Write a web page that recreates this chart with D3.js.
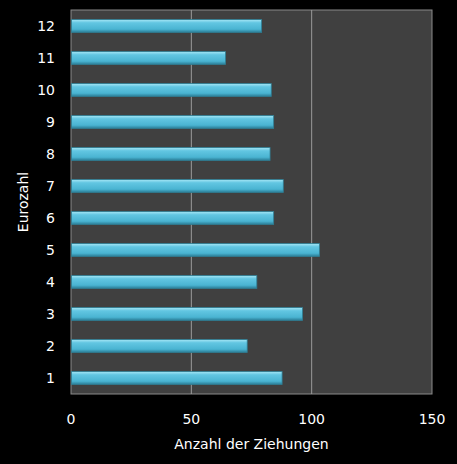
<!DOCTYPE html>
<html><head><meta charset="utf-8">
<script src="https://cdn.jsdelivr.net/npm/d3@7"></script>
<style>body{margin:0;background:#000}</style>
</head><body>
<script>
var categories = ["1","2","3","4","5","6","7","8","9","10","11","12"];
var values = [87.5, 73, 96, 77, 103, 84, 88, 82.5, 84, 83, 64, 79];
var xTicks = [0, 50, 100, 150];

var W = 457, H = 464;
var margin = { left: 71, top: 10, right: 25, bottom: 70 };
var svg = d3.select("body").append("svg").attr("width", W).attr("height", H);

var defs = svg.append("defs");
var grad = defs.append("linearGradient").attr("id", "bar").attr("x1", 0).attr("y1", 0).attr("x2", 0).attr("y2", 1);
grad.append("stop").attr("offset", "0").attr("stop-color", "#a6e6f5");
grad.append("stop").attr("offset", "0.25").attr("stop-color", "#62c6e2");
grad.append("stop").attr("offset", "0.75").attr("stop-color", "#4ab4d2");
grad.append("stop").attr("offset", "1").attr("stop-color", "#2a7d96");

var x = d3.scaleLinear().domain([0, 150]).range([margin.left, W - margin.right]);
var y = d3.scaleBand().domain(categories.slice().reverse()).range([margin.top, H - margin.bottom]).paddingInner(0.6).paddingOuter(0.3);

svg.append("rect").attr("x", x(0)).attr("y", margin.top)
    .attr("width", x(150) - x(0)).attr("height", H - margin.bottom - margin.top)
    .attr("fill", "#404040").attr("stroke", "#8a8a8a");

svg.selectAll("line.grid").data([50, 100]).enter().append("line")
    .attr("x1", function(d) { return x(d); }).attr("x2", function(d) { return x(d); })
    .attr("y1", margin.top).attr("y2", H - margin.bottom)
    .attr("stroke", "#9a9a9a").attr("stroke-width", 1);

svg.selectAll("rect.bar").data(categories).enter().append("rect")
    .attr("x", x(0) + 0.5)
    .attr("y", function(d) { return y(d); })
    .attr("height", y.bandwidth())
    .attr("width", function(d, i) { return x(values[i]) - x(0); })
    .attr("fill", "url(#bar)")
    .attr("stroke", "#2f7f95").attr("stroke-width", 0.8);

var font = "Verdana, 'DejaVu Sans', sans-serif";
svg.selectAll("text.y").data(categories).enter().append("text")
    .attr("x", 55).attr("y", function(d) { return y(d) + y.bandwidth() / 2; })
    .attr("dy", "0.35em").attr("text-anchor", "end")
    .attr("fill", "#fff").style("font", "14px " + font).text(function(d) { return d; });

svg.selectAll("text.x").data(xTicks).enter().append("text")
    .attr("x", function(d) { return x(d); }).attr("y", 424)
    .attr("text-anchor", "middle").attr("fill", "#fff")
    .style("font", "14px " + font).text(function(d) { return d; });

svg.append("text").attr("x", (x(0) + x(150)) / 2).attr("y", 449)
    .attr("text-anchor", "middle").attr("fill", "#fff")
    .style("font", "14px " + font).text("Anzahl der Ziehungen");

svg.append("text").attr("transform", "translate(28," + ((margin.top + H - margin.bottom) / 2) + ") rotate(-90)")
    .attr("text-anchor", "middle").attr("fill", "#fff")
    .style("font", "14px " + font).text("Eurozahl");
</script>
</body></html>
